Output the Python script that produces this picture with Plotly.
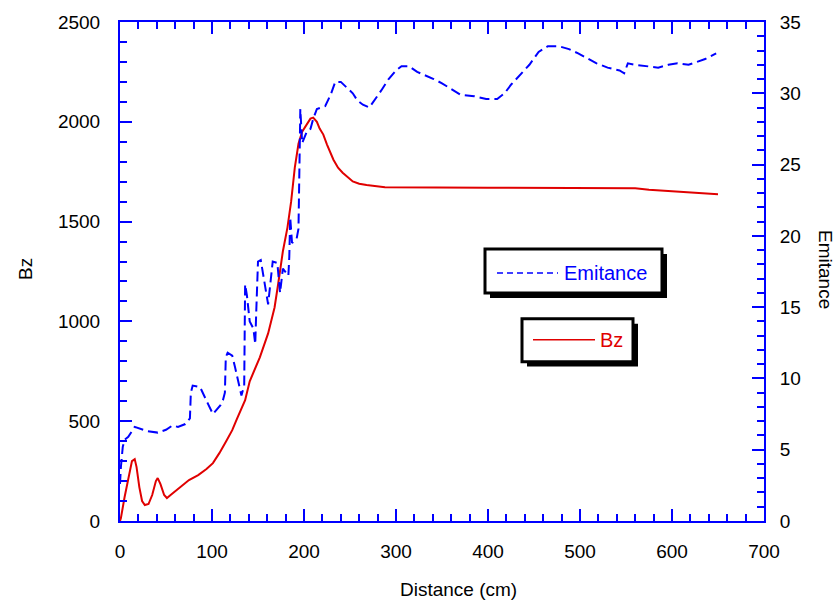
import plotly.graph_objects as go

# ---------------- data ----------------
distance_bz = [0, 1, 5, 10, 13, 16, 18, 21, 24, 27, 31, 35, 39, 41, 44, 48, 51, 55, 60, 68, 75,
               85, 94, 101, 108, 116, 122, 127, 136, 141, 152, 161, 168, 172, 177, 182, 186,
               190, 194, 198, 203, 207, 210, 214, 217, 221, 225, 232, 237, 242, 253, 260, 268,
               288, 400, 560, 575, 601, 627, 650]
bz = [0, 15, 120, 240, 300, 310, 270, 170, 100, 80, 85, 130, 200, 215, 185, 130, 115, 130, 150,
      180, 205, 230, 260, 290, 340, 405, 455, 510, 605, 700, 820, 940, 1070, 1190, 1350, 1470,
      1600, 1770, 1890, 1950, 1990, 2016, 2021, 2000, 1966, 1936, 1886, 1810, 1770, 1745,
      1701, 1690, 1683, 1672, 1670, 1667, 1660, 1652, 1642, 1637]

distance_em = [0, 1, 3, 5, 9, 16, 30, 41, 50, 57, 63, 71, 76, 77, 79, 87, 95, 101, 109, 112,
               114, 115, 117, 122, 125, 128, 132, 135, 136, 138, 141, 145, 147, 148, 150, 153,
               157, 161, 164, 166, 171, 174, 177, 183, 184, 185, 187, 192, 194, 196, 198, 203,
               207, 210, 214, 223, 229, 234, 240, 247, 253, 258, 264, 271, 278, 284, 292, 300,
               306, 314, 323, 334, 341, 350, 360, 370, 385, 398, 410, 418, 425, 435, 445, 455,
               465, 477, 488, 498, 507, 518, 530, 543, 548, 552, 560, 572, 585, 596, 606, 618,
               628, 636, 648]
emitance = [2.6, 3.8, 5.2, 5.7, 5.9, 6.6, 6.3, 6.2, 6.4, 6.7, 6.6, 6.8, 7.2, 9.0, 9.5, 9.4,
            8.3, 7.5, 8.1, 8.5, 9.0, 11.5, 11.8, 11.6, 10.8, 10.0, 8.8, 9.5, 16.6, 15.8, 14.0,
            13.5, 12.4, 14.5, 18.2, 18.3, 16.6, 15.2, 17.0, 18.2, 18.1, 16.0, 17.7, 17.2, 18.5,
            21.3, 19.5, 19.8, 20.5, 28.9, 26.5, 27.3, 27.5, 28.2, 28.9, 29.1, 29.9, 30.8, 30.8,
            30.4, 30.0, 29.5, 29.2, 29.0, 29.6, 30.2, 31.0, 31.6, 31.9, 31.9, 31.5, 31.2, 31.0,
            30.7, 30.3, 29.9, 29.8, 29.6, 29.6, 30.0, 30.6, 31.3, 32.0, 32.9, 33.3, 33.3, 33.1,
            32.8, 32.5, 32.1, 31.8, 31.6, 31.4, 32.1, 32.0, 31.9, 31.8, 32.0, 32.1, 32.0, 32.2,
            32.4, 32.8]

x_ticks = [0, 100, 200, 300, 400, 500, 600, 700]
bz_ticks = [0, 500, 1000, 1500, 2000, 2500]
em_ticks = [0, 5, 10, 15, 20, 25, 30, 35]

series_names = ["Emitance", "Bz"]
axis_titles = {"x": "Distance (cm)", "y": "Bz", "y2": "Emitance"}

# ---------------- layout helpers ----------------
W, H = 838, 604
L, R, T, B = 120, 74, 20, 83
PW, PH = W - L - R, H - T - B


def px(x):
    return (x - L) / PW


def py(y):
    return (H - B - y) / PH


BLUE = "#0000ff"
RED = "#e00000"
FONT = "Liberation Sans, Arial, sans-serif"

fig = go.Figure()
fig.add_trace(go.Scatter(x=distance_bz, y=bz, mode="lines", name=series_names[1],
                         line=dict(color=RED, width=2), yaxis="y", showlegend=False))
fig.add_trace(go.Scatter(x=distance_em, y=emitance, mode="lines", name=series_names[0],
                         line=dict(color=BLUE, width=2, dash="10px,5px"), yaxis="y2",
                         showlegend=False))

common = dict(showgrid=False, zeroline=False, showline=True, linecolor=BLUE, linewidth=2,
              ticks="inside", ticklen=12, tickwidth=2, tickcolor=BLUE,
              tickfont=dict(family=FONT, size=19, color="black"))

fig.update_layout(
    width=W, height=H,
    margin=dict(l=L, r=R, t=T, b=B),
    paper_bgcolor="white", plot_bgcolor="white",
    font=dict(family=FONT, size=19, color="black"),
    xaxis=dict(range=[0, 700], tickvals=x_ticks, mirror="ticks", ticklabelstandoff=12,
               minor=dict(ticks="inside", ticklen=7, dtick=20, tickwidth=1.5, tickcolor=BLUE),
               **common),
    yaxis=dict(range=[0, 2500], tickvals=bz_ticks, ticklabelstandoff=14,
               minor=dict(ticks="inside", ticklen=7, dtick=100, tickwidth=1.5, tickcolor=BLUE),
               **common),
    yaxis2=dict(range=[0, 35], tickvals=em_ticks, overlaying="y", side="right",
                ticklabelstandoff=10,
                minor=dict(ticks="inside", ticklen=7, dtick=1, tickwidth=1.5, tickcolor=BLUE),
                **common),
)

# axis titles
title_font = dict(family=FONT, size=19, color="black")
fig.add_annotation(x=px(458), y=py(590), xref="paper", yref="paper", text=axis_titles["x"],
                   showarrow=False, xanchor="center", yanchor="middle", font=title_font)
fig.add_annotation(x=px(25), y=py(268), xref="paper", yref="paper", text=axis_titles["y"],
                   showarrow=False, textangle=-90, xanchor="center", yanchor="middle",
                   font=title_font)
fig.add_annotation(x=px(826), y=py(268), xref="paper", yref="paper", text=axis_titles["y2"],
                   showarrow=False, textangle=90, xanchor="center", yanchor="middle",
                   font=title_font)

# legend boxes (with drop shadows)
boxes = [
    dict(x0=485, y0=248, x1=662, y1=292, sx0=497, sx1=558, ly=272, tx=562,
         name=series_names[0], color=BLUE, dash="6px,4px"),
    dict(x0=522, y0=318, x1=633, y1=361, sx0=533, sx1=595, ly=339, tx=598,
         name=series_names[1], color=RED, dash="solid"),
]
for b in boxes:
    fig.add_shape(type="rect", xref="paper", yref="paper",
                  x0=px(b["x0"] + 5), x1=px(b["x1"] + 5), y0=py(b["y0"] + 5), y1=py(b["y1"] + 5),
                  fillcolor="black", line=dict(color="black", width=0))
    fig.add_shape(type="rect", xref="paper", yref="paper",
                  x0=px(b["x0"]), x1=px(b["x1"]), y0=py(b["y0"]), y1=py(b["y1"]),
                  fillcolor="white", line=dict(color="black", width=3))
    fig.add_shape(type="line", xref="paper", yref="paper",
                  x0=px(b["sx0"]), x1=px(b["sx1"]), y0=py(b["ly"]), y1=py(b["ly"]),
                  line=dict(color=b["color"], width=1.5, dash=b["dash"]))
    fig.add_annotation(x=px(b["tx"]), y=py(b["ly"]), xref="paper", yref="paper",
                       text=b["name"], showarrow=False, xanchor="left", yanchor="middle",
                       font=dict(family=FONT, size=20, color=b["color"]))

fig.write_html("out.html", config={"displayModeBar": False},
               post_script="document.body.style.margin='0';document.body.style.padding='0';")
